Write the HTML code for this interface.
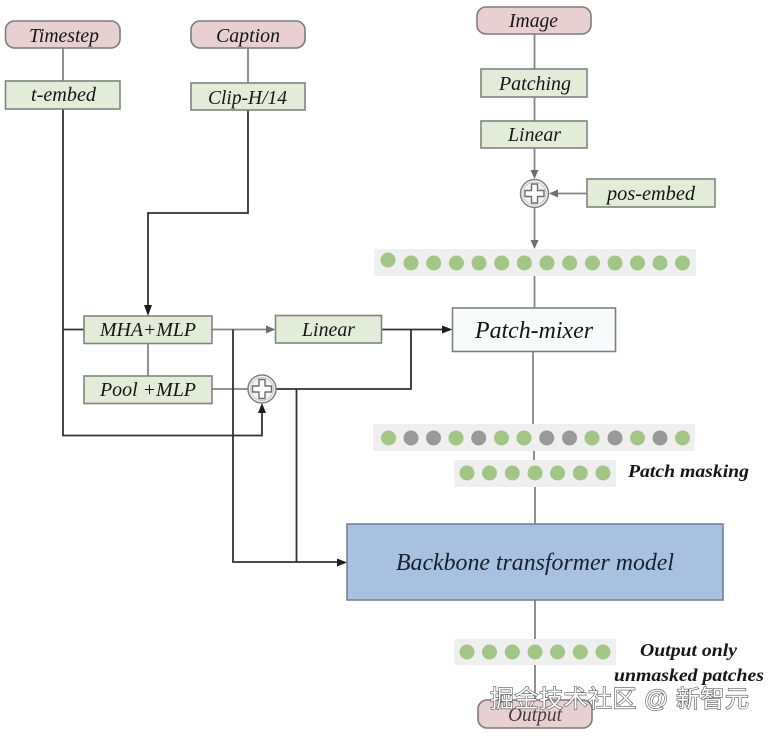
<!DOCTYPE html>
<html lang="zh">
<head>
<meta charset="utf-8">
<title>Diagram</title>
<style>
html,body{margin:0;padding:0;background:#fff;}
svg{display:block;}
.t{font-family:"Liberation Serif",serif;font-style:italic;font-size:20px;fill:#141814;}
.b{font-family:"Liberation Serif",serif;font-style:italic;font-weight:bold;font-size:18px;fill:#161616;}
.r{fill:#e8cfd1;stroke:#7c7c7c;stroke-width:1.6;}
.g{fill:#e3ebd9;stroke:#808580;stroke-width:1.6;}
.s{fill:#efefef;}
.d{fill:#a3c585;}
.x{fill:#999;}
.l{fill:none;stroke:#858585;stroke-width:1.8;}
.k{fill:none;stroke:#303030;stroke-width:1.8;}
.wm{font-family:"Liberation Sans","Noto Sans CJK SC",sans-serif;font-size:24px;fill:#fff;stroke:#555;stroke-width:1.2;paint-order:stroke;}
</style>
</head>
<body>
<svg width="771" height="733" viewBox="0 0 771 733" xmlns="http://www.w3.org/2000/svg">
<defs><filter id="bl" x="-2%" y="-2%" width="104%" height="104%"><feGaussianBlur stdDeviation="0.35"/></filter></defs>
<rect width="771" height="733" fill="#fff"/>
<g filter="url(#bl)">
<!-- gray connectors -->
<path class="l" d="M63 48V81M248 48V83M534.500 34V69M534.500 97V121M534.500 148V172M534.500 207V242M534.500 276V308M533 351.500V424M534 451V460M535 487V524M535 600V639M535 665V700M148 343.500V376M212 329.500H268M212 389H248M556 193.500H587"/>
<!-- dark connectors -->
<path class="k" d="M63 109V435.500H262V412M63 329.500H84M248 110V213H148V308M233 329.500V562H340M296.500 389V562M276 389H411V329.500M381.500 329.500H446"/>
<!-- arrowheads -->
<path fill="#1c1c1c" d="M144 305H152L148 316ZM452.500 329.500L442 325.500V333.500ZM347 562.500L337 558.500V566.500ZM262 403L258 413H266Z"/>
<path fill="#6e6e6e" d="M275.500 329.500L266 325.500V333.500ZM530.500 170H538.500L534.500 179ZM530.500 240H538.500L534.500 249ZM549 193.500L558 189.500V197.500Z"/>

<!-- nodes -->
<rect class="r" x="5.500" y="21" width="114.500" height="27" rx="9"/>
<rect class="r" x="191" y="21" width="114" height="27" rx="9"/>
<rect class="r" x="477" y="7" width="114" height="27" rx="9"/>
<rect class="g" x="5.500" y="81" width="114.500" height="28"/>
<rect class="g" x="191" y="83" width="114" height="27"/>
<rect class="g" x="481" y="69" width="106" height="28"/>
<rect class="g" x="481" y="121" width="106" height="27"/>
<rect class="g" x="587" y="179" width="128" height="28"/>
<rect class="g" x="84" y="316" width="128" height="27.500"/>
<rect class="g" x="275.500" y="315.500" width="106" height="27.500"/>
<rect class="g" x="84" y="376" width="128" height="27.500"/>
<rect x="452.500" y="308" width="163" height="43.500" fill="#f8fafc" stroke="#808080" stroke-width="1.600"/>
<rect x="347" y="524" width="376" height="76" fill="#a9c1e1" stroke="#7a838f" stroke-width="1.600"/>
<rect class="r" x="478" y="700" width="114" height="28" rx="9"/>

<!-- plus circles -->
<g transform="translate(534.500 193.500)">
<circle r="14" fill="#f2f2f2" stroke="#808080" stroke-width="1.500"/>
<circle r="11.500" fill="none" stroke="#bbb" stroke-width=".8"/>
<path d="M-3 -9.500H3V-3H9.500V3H3V9.500H-3V3H-9.500V-3H-3Z" fill="#fff" stroke="#6e6e6e" stroke-width="1.400" stroke-linejoin="round"/>
</g>
<g transform="translate(262 389)">
<circle r="14" fill="#f2f2f2" stroke="#808080" stroke-width="1.500"/>
<circle r="11.500" fill="none" stroke="#bbb" stroke-width=".8"/>
<path d="M-3 -9.500H3V-3H9.500V3H3V9.500H-3V3H-9.500V-3H-3Z" fill="#fff" stroke="#6e6e6e" stroke-width="1.400" stroke-linejoin="round"/>
</g>

<!-- strips -->
<rect class="s" x="374" y="249" width="322" height="27"/>
<circle class="d" cx="388" cy="260" r="7.500"/>
<circle class="d" cx="411" cy="263" r="7.500"/>
<circle class="d" cx="433.700" cy="263" r="7.500"/>
<circle class="d" cx="456.400" cy="263" r="7.500"/>
<circle class="d" cx="479" cy="263" r="7.500"/>
<circle class="d" cx="501.700" cy="263" r="7.500"/>
<circle class="d" cx="524.400" cy="263" r="7.500"/>
<circle class="d" cx="547" cy="263" r="7.500"/>
<circle class="d" cx="569.700" cy="263" r="7.500"/>
<circle class="d" cx="592.400" cy="263" r="7.500"/>
<circle class="d" cx="615" cy="263" r="7.500"/>
<circle class="d" cx="637.500" cy="263" r="7.500"/>
<circle class="d" cx="660" cy="263" r="7.500"/>
<circle class="d" cx="682.500" cy="263" r="7.500"/>

<rect class="s" x="373" y="424" width="322" height="27"/>
<circle class="d" cx="388.500" cy="438" r="7.500"/>
<circle class="x" cx="411" cy="438" r="7.500"/>
<circle class="x" cx="433.500" cy="438" r="7.500"/>
<circle class="d" cx="456" cy="438" r="7.500"/>
<circle class="x" cx="478.700" cy="438" r="7.500"/>
<circle class="d" cx="501.500" cy="438" r="7.500"/>
<circle class="d" cx="524" cy="438" r="7.500"/>
<circle class="x" cx="546.700" cy="438" r="7.500"/>
<circle class="x" cx="569.500" cy="438" r="7.500"/>
<circle class="d" cx="592" cy="438" r="7.500"/>
<circle class="x" cx="615" cy="438" r="7.500"/>
<circle class="d" cx="637.500" cy="438" r="7.500"/>
<circle class="x" cx="660" cy="438" r="7.500"/>
<circle class="d" cx="682.500" cy="438" r="7.500"/>

<rect class="s" x="454" y="460" width="162" height="27"/>
<circle class="d" cx="467" cy="473" r="7.500"/>
<circle class="d" cx="489.500" cy="473" r="7.500"/>
<circle class="d" cx="512.300" cy="473" r="7.500"/>
<circle class="d" cx="535" cy="473" r="7.500"/>
<circle class="d" cx="557.500" cy="473" r="7.500"/>
<circle class="d" cx="580.300" cy="473" r="7.500"/>
<circle class="d" cx="603" cy="473" r="7.500"/>

<rect class="s" x="454" y="639" width="162" height="26"/>
<circle class="d" cx="467" cy="652" r="7.500"/>
<circle class="d" cx="489.500" cy="652" r="7.500"/>
<circle class="d" cx="512.300" cy="652" r="7.500"/>
<circle class="d" cx="535" cy="652" r="7.500"/>
<circle class="d" cx="557.500" cy="652" r="7.500"/>
<circle class="d" cx="580.300" cy="652" r="7.500"/>
<circle class="d" cx="603" cy="652" r="7.500"/>

<!-- labels -->
<text class="t" x="29" y="42" textLength="70" lengthAdjust="spacingAndGlyphs">Timestep</text>
<text class="t" x="216" y="42" textLength="64" lengthAdjust="spacingAndGlyphs">Caption</text>
<text class="t" x="509" y="27" textLength="49" lengthAdjust="spacingAndGlyphs">Image</text>
<text class="t" x="31" y="101" textLength="65" lengthAdjust="spacingAndGlyphs">t-embed</text>
<text class="t" x="208" y="104" textLength="79" lengthAdjust="spacingAndGlyphs">Clip-H/14</text>
<text class="t" x="499" y="90" textLength="72" lengthAdjust="spacingAndGlyphs">Patching</text>
<text class="t" x="508" y="141" textLength="53" lengthAdjust="spacingAndGlyphs">Linear</text>
<text class="t" x="607" y="200" textLength="88" lengthAdjust="spacingAndGlyphs">pos-embed</text>
<text class="t" x="100" y="336" textLength="96" lengthAdjust="spacingAndGlyphs">MHA+MLP</text>
<text class="t" x="302" y="336" textLength="53" lengthAdjust="spacingAndGlyphs">Linear</text>
<text class="t" x="100" y="396" textLength="96" lengthAdjust="spacingAndGlyphs">Pool +MLP</text>
<text class="t" x="475" y="338" textLength="118" lengthAdjust="spacingAndGlyphs" style="font-size:24px">Patch-mixer</text>
<text class="t" x="396" y="570" textLength="278" lengthAdjust="spacingAndGlyphs" style="font-size:24px;fill:#14202f">Backbone transformer model</text>
<text class="t" x="508" y="721" textLength="54" lengthAdjust="spacingAndGlyphs" style="fill:#4a3c3e">Output</text>
<text class="b" x="628" y="477" textLength="121" lengthAdjust="spacingAndGlyphs">Patch masking</text>
<text class="b" x="640" y="656" textLength="97" lengthAdjust="spacingAndGlyphs">Output only</text>
<text class="b" x="614" y="681" textLength="150" lengthAdjust="spacingAndGlyphs">unmasked patches</text>
</g>
<text class="wm" x="490" y="707" textLength="259" lengthAdjust="spacing">掘金技术社区 @ 新智元</text>
</svg>
</body>
</html>
